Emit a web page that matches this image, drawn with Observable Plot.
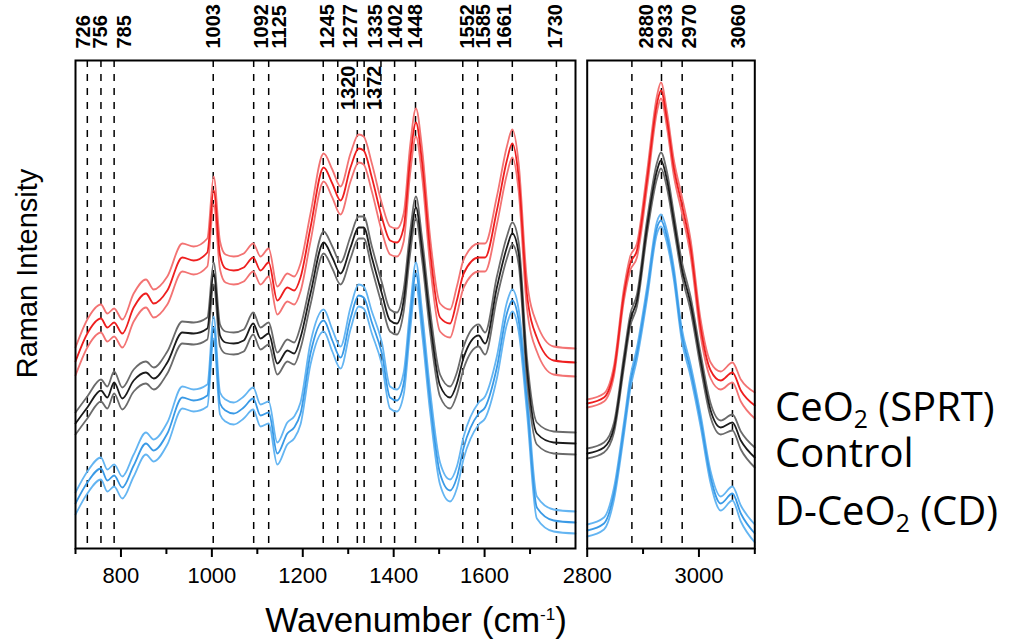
<!DOCTYPE html>
<html><head><meta charset="utf-8">
<script src="https://cdn.jsdelivr.net/npm/d3@7"></script>
<script src="https://cdn.jsdelivr.net/npm/@observablehq/plot@0.6"></script>
<style>
body{margin:0;background:#fff;}
#chart{position:relative;width:1013px;height:641px;overflow:hidden;font-family:"Liberation Sans",Arial,sans-serif;background:#fff;}
#chart svg{position:absolute;top:0;background:transparent;overflow:visible;}
#chart svg g[aria-label^="x-axis"] line, #chart svg g[aria-label^="x-axis"] path{stroke-width:2px;}
.legend{position:absolute;left:775px;font-family:"Open Sans",sans-serif;font-size:40px;line-height:40px;white-space:nowrap;color:#000;}
.legend sub{font-size:0.62em;vertical-align:-0.3em;line-height:0;}
#xtitle{position:absolute;left:0;width:832px;text-align:center;top:602px;font-size:35px;line-height:35px;color:#000;white-space:nowrap;}
#xtitle sup{font-size:17px;vertical-align:12px;line-height:0;}
</style></head>
<body>
<div id="chart">
  <div id="xtitle">Wavenumber (cm<sup>-1</sup>)</div>
  <div class="legend" style="top:386px">CeO<sub>2</sub> (SPRT)</div>
  <div class="legend" style="top:432px">Control</div>
  <div class="legend" style="top:490px">D-CeO<sub>2</sub> (CD)</div>
</div>
<script>
// ---------- data: fingerprint region (left panel) ----------
const wnL = [700,726,756,770,785,803,828,855,872,902,935,960,990,1004,1018,1030,1048,1070,1091,1107,1125,1144,1166,1181,1195,1217,1246,1265,1283,1305,1323,1334,1352,1374,1392,1407,1422,1436,1449,1462,1480,1502,1524,1539,1554,1587,1601,1627,1649,1661,1675,1693,1715,1752,1800];
const sprtL = [187,215,230,221,226,215,241,255,245,258,291,288,296,358,293,280,278,281,291,278,286,248,261,258,271,321,381,365,348,381,400,398,371,331,308,306,321,388,426,388,298,231,225,248,275,291,291,338,388,405,371,255,211,188,186];
const controlL = [125,141,158,151,166,150,168,176,170,186,216,215,220,275,213,206,205,208,225,210,215,185,198,195,211,255,306,291,275,301,321,321,291,255,228,225,248,305,341,301,228,163,151,165,191,213,205,261,301,315,295,181,115,106,105];
const cdL = [45,66,80,68,73,61,83,105,98,115,151,148,153,221,145,138,135,141,150,133,136,95,115,121,135,195,228,208,191,230,253,251,226,195,151,148,165,228,275,228,148,75,58,71,101,135,141,181,235,248,228,148,41,28,26];
const sdL = {sprt: 14, control: 11, cd: 11};

// ---------- data: high-wavenumber region (right panel) ----------
const wnR = [2800,2830,2848,2866,2877,2889,2907,2925,2932,2943,2955,2969,2985,3003,3021,3039,3060,3075,3100];
const sprtR = [145,151,178,255,285,298,368,445,458,428,381,345,301,221,178,168,176,158,143];
const sprtRsd = [4,4,5,6,7,7,8,8,8,8,8,8,8,8,8,9,10,11,13];
const controlR = [95,101,121,188,228,248,321,378,388,368,328,281,245,188,138,121,126,108,91];
const controlRsd = [5,5,5,6,6,6,7,8,8,8,7,7,7,7,7,7,8,9,10];
const cdR = [18,25,55,121,165,195,255,321,328,311,275,215,178,128,71,45,55,35,15];
const cdRsd = [6,6,6,6,6,6,6,6,6,6,6,6,6,6,6,7,7,8,9];

// ---------- peak assignments ----------
const peakLabelsL = ["726","756","785","1003","1092","1125","1245","1277","1335","1402","1448","1552","1585","1661","1730"];
const peakPosL = [726,756,785,1003,1092,1125,1245,1277,1335,1402,1448,1552,1585,1661,1758];
const innerLabelsL = ["1320","1372"];
const innerPosL = [1320,1372];
const peakLabelsR = ["2880","2933","2970","3060"];
const peakPosR = [2880,2933,2970,3060];

// ticks
const majorL = [800,1000,1200,1400,1600];
const minorL = [700,900,1100,1300,1500,1700];
const majorR = [2800,3000];
const minorR = [2900,3100];

// ---------- styling / layout ----------
const colors = {
  sprt: ["#ee1f1f", "#f37373"],
  control: ["#1c1c1c", "#6b6b6b"],
  cd: ["#3a9ae6", "#64b5f2"]
};
const nudgeL = [-4,0,10,0,8,11,4,13,11,1,0,5,6,-8,-1];
const nudgeInner = [-9,-6];
const nudgeR = [15,4,7,6];
const FONT = "Liberation Sans, Arial, sans-serif";
const FRAME_H = 488;
const LABEL_SIZE = 20;

function band(wn, mean, sd, col) {
  const s = (i) => Array.isArray(sd) ? sd[i] : sd;
  const common = {x: d => d, curve: "monotone-x", strokeWidth: 1.8};
  return [
    Plot.line(wn, {...common, y: (d, i) => mean[i] + s(i), stroke: col[1]}),
    Plot.line(wn, {...common, y: (d, i) => mean[i] - s(i), stroke: col[1]}),
    Plot.line(wn, {...common, y: (d, i) => mean[i], stroke: col[0]})
  ];
}

function topLabels(labels, pos, nudge) {
  return labels.map((t, i) => Plot.text([t], {
    x: [pos[i]], text: [t], frameAnchor: "top", dy: -12, dx: nudge[i],
    rotate: -90, textAnchor: "start", lineAnchor: "middle",
    fontWeight: "bold", fontSize: LABEL_SIZE, fill: "#000"
  }));
}

function minorTicks(minor) {
  return Plot.ruleX(minor, {insetTop: FRAME_H, insetBottom: -6, strokeWidth: 2, stroke: "#000"});
}

const common = {
  height: 641, marginTop: 60, marginBottom: 93,
  style: {background: "transparent", fontFamily: FONT, fontSize: "22px", overflow: "visible", color: "#000"},
  y: {domain: [0, 488], axis: null}
};

const left = Plot.plot({
  ...common,
  width: 600, marginLeft: 75, marginRight: 25,
  x: {domain: [700, 1800], ticks: majorL, tickSize: 9, tickPadding: 10, tickFormat: d => String(d), label: null},
  marks: [
    Plot.ruleX(peakPosL.concat(innerPosL), {strokeDasharray: "7,7", strokeWidth: 1.5, stroke: "#000"}),
    ...band(wnL, cdL, sdL.cd, colors.cd),
    ...band(wnL, controlL, sdL.control, colors.control),
    ...band(wnL, sprtL, sdL.sprt, colors.sprt),
    ...topLabels(peakLabelsL, peakPosL, nudgeL),
    ...innerLabelsL.map((t, i) => Plot.text([t], {
      x: [innerPosL[i]], text: [t], frameAnchor: "top", dy: 5, dx: nudgeInner[i],
      rotate: -90, textAnchor: "end", lineAnchor: "middle",
      fontWeight: "bold", fontSize: LABEL_SIZE, fill: "#000"
    })),
    minorTicks(minorL),
    Plot.text(["Raman Intensity"], {frameAnchor: "left", dx: -48, dy: -31, rotate: -90,
      textAnchor: "middle", lineAnchor: "middle", fontSize: 29, fill: "#000"}),
    Plot.frame({strokeWidth: 2, stroke: "#000"})
  ]
});
left.style.left = "0px";

const right = Plot.plot({
  ...common,
  width: 220, marginLeft: 26.7, marginRight: 25.7,
  x: {domain: [2800, 3100], ticks: majorR, tickSize: 9, tickPadding: 10, tickFormat: d => String(d), label: null},
  marks: [
    Plot.ruleX(peakPosR, {strokeDasharray: "7,7", strokeWidth: 1.5, stroke: "#000"}),
    ...band(wnR, cdR, cdRsd, colors.cd),
    ...band(wnR, controlR, controlRsd, colors.control),
    ...band(wnR, sprtR, sprtRsd, colors.sprt),
    ...topLabels(peakLabelsR, peakPosR, nudgeR),
    minorTicks(minorR),
    Plot.frame({strokeWidth: 2, stroke: "#000"})
  ]
});
right.style.left = "560px";

const chart = document.getElementById("chart");
chart.appendChild(left);
chart.appendChild(right);
</script>
</body></html>
